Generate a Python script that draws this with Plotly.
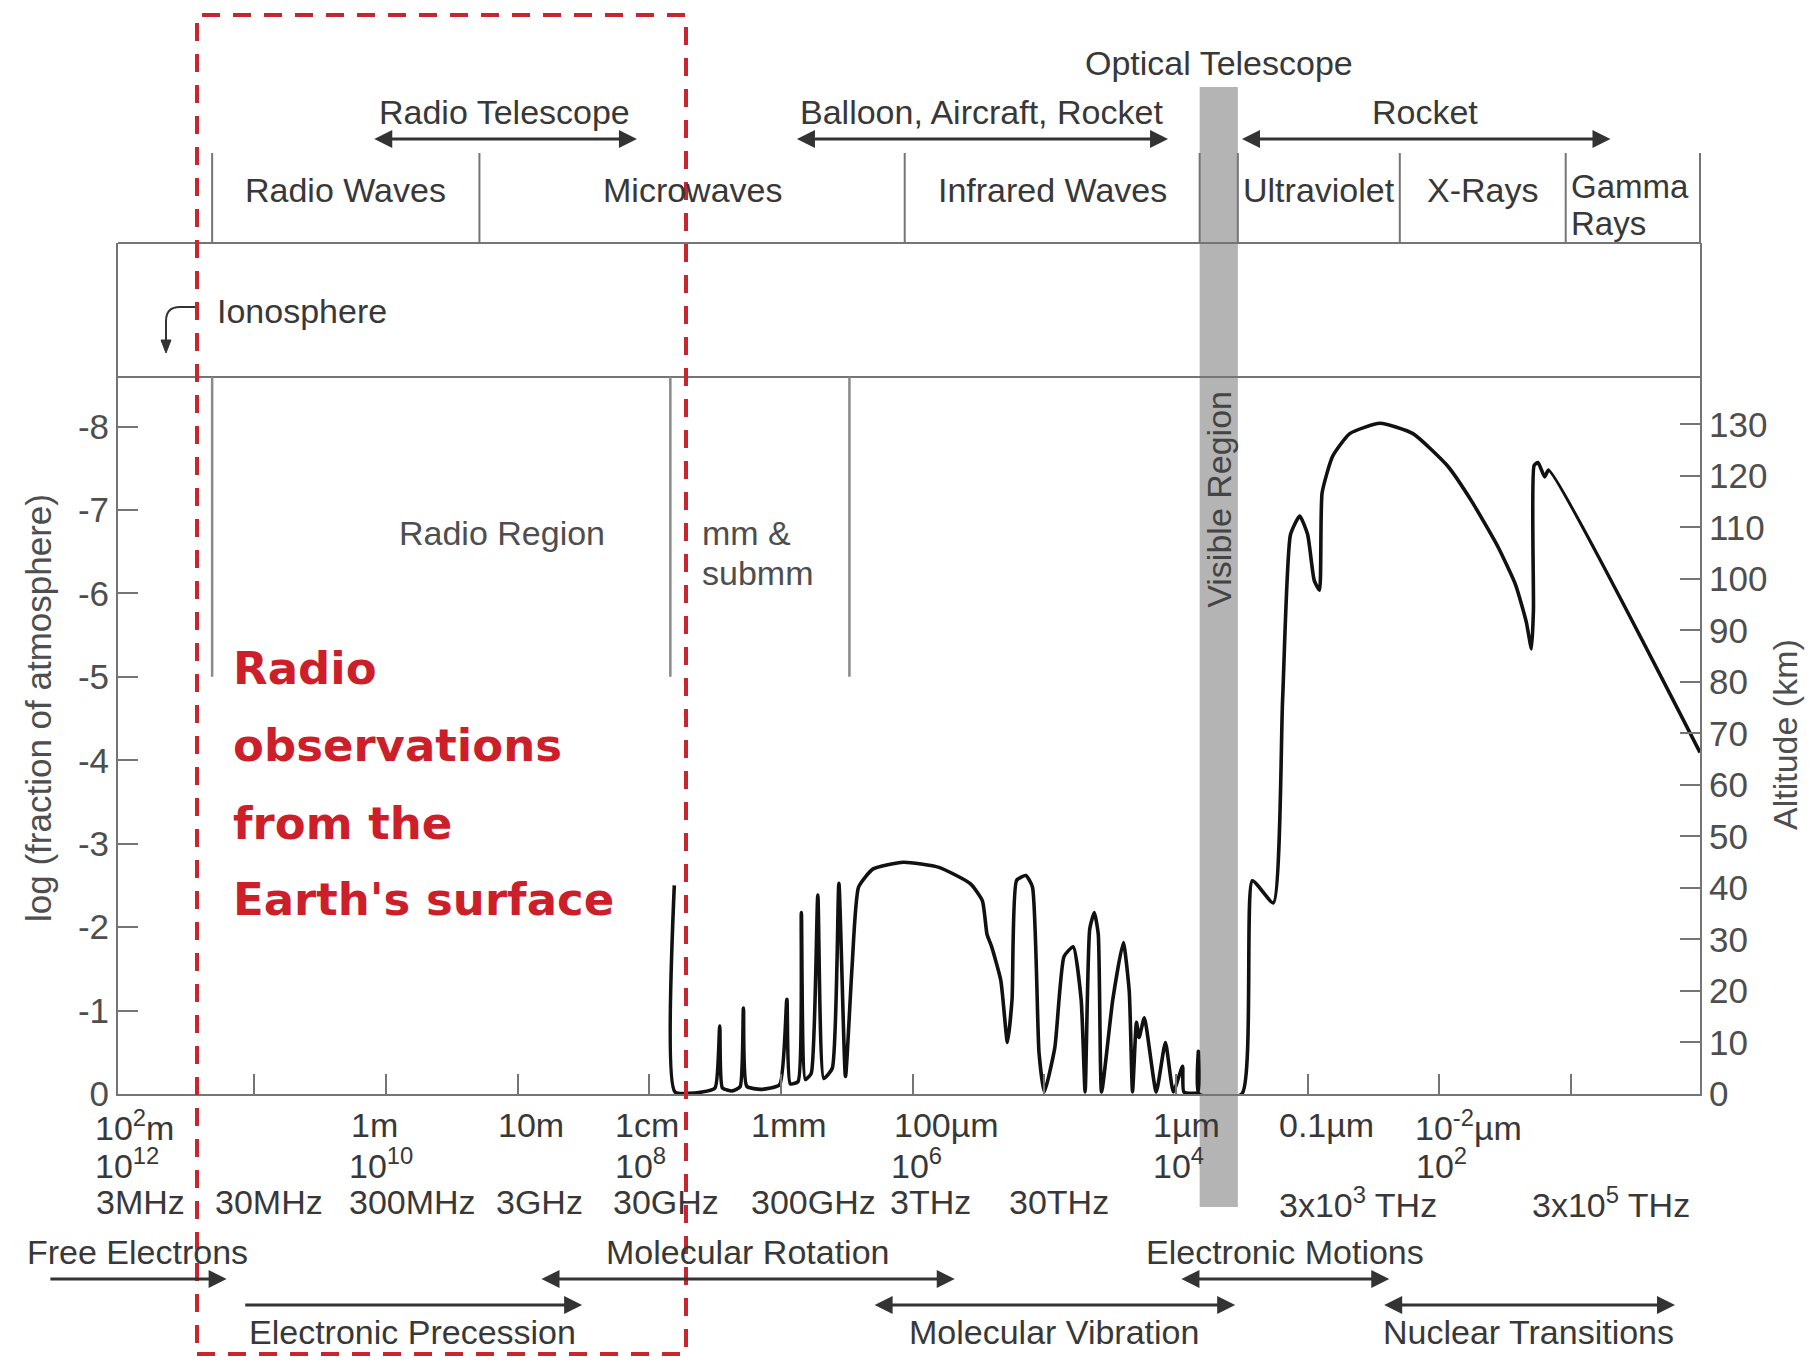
import plotly.graph_objects as go

# ---------------- data ----------------
# atmospheric cut-off altitude vs log10(wavelength / m)
curve_loglam = [-2.19, -2.195, -2.40, -2.50, -2.535, -2.555, -2.63, -2.69, -2.715, -2.74,
                -2.85, -2.99, -3.045, -3.07, -3.13, -3.155, -3.185, -3.23, -3.28, -3.325,
                -3.39, -3.44, -3.49, -3.54, -3.59, -3.70, -3.93, -4.20, -4.44, -4.53,
                -4.565, -4.60, -4.67, -4.72, -4.755, -4.79, -4.86, -4.91, -4.96, -5.00,
                -5.08, -5.15, -5.22, -5.28, -5.31, -5.345, -5.38, -5.41, -5.435, -5.52,
                -5.60, -5.645, -5.67, -5.70, -5.72, -5.76, -5.85, -5.92, -5.98, -6.05,
                -6.06, -6.165, -6.17, -6.175, -6.50, -6.58, -6.74, -6.81, -6.87, -6.94,
                -7.00, -7.05, -7.09, -7.11, -7.19, -7.32, -7.55, -7.80, -8.06, -8.25,
                -8.45, -8.58, -8.66, -8.70, -8.715, -8.72, -8.75, -8.80, -8.83, -9.98]
curve_alt_km = [40.5, 0.4, 0.4, 1.2, 13.2, 1.2, 0.6, 1.4, 16.7, 1.5,
                0.9, 1.8, 18.4, 2.0, 2.4, 35.2, 2.8, 4.0, 38.6, 3.0,
                5.0, 40.9, 3.4, 24.7, 40.2, 43.7, 45.0, 44.0, 40.8, 37.5,
                31.0, 28.6, 22.0, 10.0, 18.3, 41.5, 42.4, 40.2, 8.0, 0.4,
                9.0, 26.7, 28.6, 18.3, 0.4, 32.0, 35.2, 31.0, 0.4, 18.3,
                29.4, 20.0, 0.4, 13.9, 11.0, 14.8, 0.4, 10.0, 0.4, 5.4,
                0.4, 0.3, 8.3, 0.0, 0.0, 41.4, 37.1, 76.6, 108.6, 112.2,
                108.6, 99.7, 97.8, 116.7, 123.8, 128.2, 130.2, 128.2, 122.0, 114.9,
                106.0, 98.8, 91.7, 86.4, 94.0, 122.0, 122.6, 119.8, 121.1, 66.3]

band_names = ["Radio Waves", "Microwaves", "Infrared Waves", "", "Ultraviolet", "X-Rays", "Gamma"]
band_edges = [1.32, -0.71, -3.94, -6.18, -6.47, -7.70, -8.96, -9.98]
visible_band = [-6.18, -6.47]
region_edges = [1.32, -2.16, -3.52]
region_floor = -5

window_names = ["Radio Telescope", "Balloon, Aircraft, Rocket", "Rocket"]
window_start = [0.10, -3.11, -6.49]
window_end = [-1.906, -5.94, -9.30]

process_names = ["Free Electrons", "Electronic Precession", "Molecular Rotation",
                 "Molecular Vibration", "Electronic Motions", "Nuclear Transitions"]
process_start = [2.56, 1.08, -1.17, -3.70, -6.03, -7.57]
process_end = [1.21, -1.49, -4.32, -6.45, -7.62, -9.79]
process_row = [0, 1, 0, 1, 0, 1]
process_double = [False, False, True, True, True, True]

x_ticks = [1, 0, -1, -2, -3, -4, -5, -6, -7, -8, -9]
wl_labels = ["10<sup>2</sup>m", "1m", "10m", "1cm", "1mm", "100µm", "1µm", "0.1µm", "10<sup>-2</sup>µm"]
wl_label_at = [2, 0, -1, -2, -3, -4, -6, -7, -8]
ang_labels = ["10<sup>12</sup>", "10<sup>10</sup>", "10<sup>8</sup>", "10<sup>6</sup>", "10<sup>4</sup>", "10<sup>2</sup>", "Å"]
ang_label_at = [2, 0, -2, -4, -6, -8, -10]
freq_labels = ["3MHz", "30MHz", "300MHz", "3GHz", "30GHz", "300GHz", "3THz", "30THz",
               "3x10<sup>3</sup> THz", "3x10<sup>5</sup> THz"]
freq_label_at = [2, 1, 0, -1, -2, -3, -4, -5, -7, -9]

log_frac_ticks = [-8, -7, -6, -5, -4, -3, -2, -1, 0]
alt_ticks = [0, 10, 20, 30, 40, 50, 60, 70, 80, 90, 100, 110, 120, 130]

red_lines = ["Radio", "observations", "from the", "Earth's surface"]

# ---------------- layout helpers (page pixels of the 1814x1364 window) ----------------
OFF = 8                      # default body margin of the page
W, H = 1814 - 2 * OFF, 1364 - 2 * OFF
L, R, T, B = 118, 1700, 243, 1094
wl_shift = [12, -11, 13, -2, 8, 34, 11, 19, 29]
ang_shift = [4, -5, -9, 4, 3, 2, 0]
freq_shift = [18, 15, 27, 22, 17, 33, 18, 15, 50, 40]
red_y = [668, 745, 823, 899]


def px(x):
    return (x - L) / (R - L)


def py(y):
    return (B - y) / (B - T)


FONT = "Liberation Sans, Arial, sans-serif"
FS = 34
TXT = "#383838"
LINE = "#757575"
anns = []
shapes = []


def label(text, x, y, xref="paper", size=FS, color=TXT, xanchor="center", angle=0, xshift=0,
          family=FONT):
    anns.append(dict(text=text, x=x if xref != "paper" else px(x), y=py(y), xref=xref, yref="paper",
                     showarrow=False, xanchor=xanchor, yanchor="middle", textangle=angle,
                     xshift=xshift, font=dict(family=family, size=size, color=color)))


def arrow(x0, x1, y, double):
    anns.append(dict(text="", x=x1, y=py(y), xref="x", yref="paper", ax=x0, ay=0,
                     axref="x", ayref="pixel", showarrow=True, arrowhead=2, arrowsize=1.2,
                     arrowwidth=3, arrowcolor="#333", standoff=0, startstandoff=0,
                     arrowside="end+start" if double else "end", startarrowhead=2,
                     startarrowsize=1.2))


def hline(y, x0=0, x1=1, color=LINE, w=2):
    shapes.append(dict(type="line", xref="paper", yref="paper", x0=x0, x1=x1, y0=py(y), y1=py(y),
                       line=dict(color=color, width=w)))


# ---------------- figure ----------------
fig = go.Figure()
fig.add_trace(go.Scatter(x=[], y=[], yaxis="y", showlegend=False, hoverinfo="skip"))
fig.add_trace(go.Scatter(x=curve_loglam, y=curve_alt_km, mode="lines", yaxis="y2",
                         line=dict(color="#111111", width=3.6, shape="spline", smoothing=0.5),
                         showlegend=False, hoverinfo="skip"))

# visible band
shapes.append(dict(type="rect", xref="x", yref="paper", x0=visible_band[0], x1=visible_band[1],
                   y0=py(1207), y1=py(87), fillcolor="#b4b4b4", line=dict(width=0), layer="below"))

# box lines
hline(T)
hline(377)
shapes.append(dict(type="line", xref="paper", yref="paper", x0=1, x1=1, y0=1, y1=py(153),
                   line=dict(color=LINE, width=2)))
for e in band_edges[:-1]:
    shapes.append(dict(type="line", xref="x", yref="paper", x0=e, x1=e, y0=1, y1=py(153),
                       line=dict(color=LINE, width=2)))
floor_paper = region_floor / -10.2
for e in region_edges:
    shapes.append(dict(type="line", xref="x", yref="paper", x0=e, x1=e, y0=py(377),
                       y1=floor_paper, line=dict(color="#8a8a8a", width=2.5)))

# band labels
for i, name in enumerate(band_names):
    if not name:
        continue
    if name == "Gamma":
        label("Gamma", band_edges[i], 187, xref="x", xanchor="left", xshift=3, size=33)
        label("Rays", band_edges[i], 223, xref="x", xanchor="left", xshift=3, size=33)
    else:
        label(name, (band_edges[i] + band_edges[i + 1]) / 2, 190, xref="x")

# observation windows
for n, s, e in zip(window_names, window_start, window_end):
    label(n, (s + e) / 2, 112, xref="x")
    arrow(s, e, 139, True)
label("Optical Telescope", sum(visible_band) / 2, 63, xref="x")

# processes
for n, s, e, r, d in zip(process_names, process_start, process_end, process_row, process_double):
    label(n, (s + e) / 2, 1252 if r == 0 else 1332, xref="x")
    arrow(s, e, 1279 if r == 0 else 1305, d)

# x labels
for t, e, sh in zip(wl_labels, wl_label_at, wl_shift):
    label(t, e, 1125, xref="x", xshift=sh)
for t, e, sh in zip(ang_labels, ang_label_at, ang_shift):
    label(t, e, 1163, xref="x", xshift=sh)
for t, e, sh in zip(freq_labels, freq_label_at, freq_shift):
    label(t, e, 1202, xref="x", xshift=sh)

# other texts
label("Ionosphere", 215, 311, xanchor="left")
label("Radio Region", 502, 533, color="#4e4e4e")
label("mm &amp;", 700, 533, xanchor="left", color="#4e4e4e")
label("submm", 700, 573, xanchor="left", color="#4e4e4e")
label("Visible Region", sum(visible_band) / 2, 499, xref="x", angle=-90, color="#444")
label("log (fraction of atmosphere)", 38, 708, angle=-90, color="#4e4e4e", size=35)
label("Altitude (km)", 1785, 735, angle=-90, color="#4e4e4e", size=34)

# ionosphere arrow
shapes.append(dict(type="path", xref="paper", yref="paper",
                   path=f"M {px(197)},{py(307)} L {px(180)},{py(307)} Q {px(166)},{py(307)} {px(166)},{py(321)} L {px(166)},{py(342)}",
                   line=dict(color="#333", width=2)))
shapes.append(dict(type="path", xref="paper", yref="paper",
                   path=f"M {px(161)},{py(340)} L {px(171)},{py(340)} L {px(166)},{py(353)} Z",
                   fillcolor="#333", line=dict(color="#333", width=1)))

# red highlight
shapes.append(dict(type="rect", xref="paper", yref="paper", x0=px(197), x1=px(686),
                   y0=py(1354), y1=py(15), line=dict(color="#c9252f", width=4, dash="18px,13px"),
                   layer="above"))
for t, yy in zip(red_lines, red_y):
    anns.append(dict(text=f"<b>{t}</b>", x=px(231), y=py(yy), xref="paper",
                     yref="paper", showarrow=False, xanchor="left", yanchor="middle",
                     font=dict(family="DejaVu Sans", size=45, color="#cc1f2a")))

axis_common = dict(showgrid=False, zeroline=False, showline=True, linecolor=LINE, linewidth=2,
                   ticks="inside", ticklen=20, tickwidth=2, tickcolor=LINE,
                   tickfont=dict(family=FONT, size=35, color="#4e4e4e"))

fig.update_layout(
    width=W, height=H,
    margin=dict(l=L - OFF, r=(W + OFF) - R, t=T - OFF, b=(H + OFF) - B, pad=0),
    paper_bgcolor="white", plot_bgcolor="white", showlegend=False,
    xaxis=dict(range=[2.035, -9.98], tickvals=x_ticks, showticklabels=False, **axis_common),
    yaxis=dict(range=[0, -10.2], tickmode="array", tickvals=log_frac_ticks,
               ticktext=[str(v) for v in log_frac_ticks], **axis_common),
    yaxis2=dict(range=[0, 165.2], tickmode="array", tickvals=alt_ticks, overlaying="y",
                side="right", **axis_common),
    shapes=shapes, annotations=anns,
)
fig.write_html("out.html")
